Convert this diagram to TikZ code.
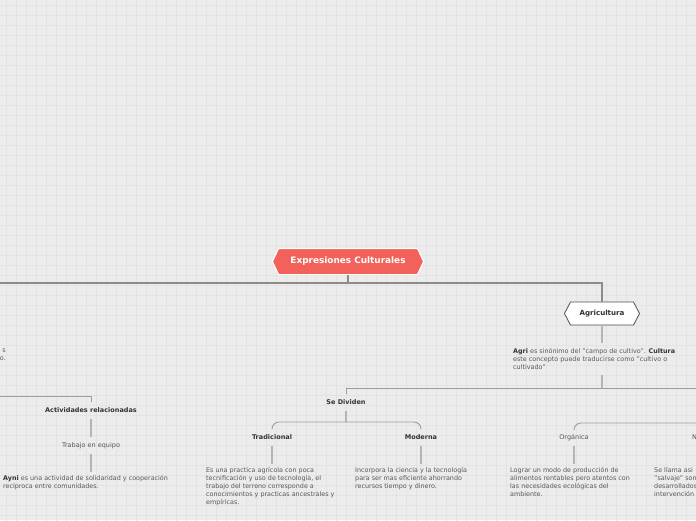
\documentclass[tikz,border=0pt]{standalone}
\usepackage{fontspec}
\setmainfont{DejaVu Sans}
\usetikzlibrary{positioning,shapes.symbols}
\definecolor{canvasgray}{RGB}{236,236,236}
\definecolor{gridgray}{RGB}{227,227,227}
\definecolor{salmonred}{RGB}{242,97,90}
\definecolor{inkgray}{RGB}{51,51,51}
\definecolor{notegray}{RGB}{88,88,88}
\definecolor{linegray}{RGB}{140,140,140}
\newcommand{\kw}[1]{\textcolor{inkgray}{\bfseries #1}}

\begin{document}
\begin{tikzpicture}[
        x=1pt, y=-1pt,
        rootnode/.style={signal, signal to=east and west, signal pointer angle=130,
            fill=salmonred, draw=white, line width=1pt, text=white,
            font=\fontsize{8.9}{10}\selectfont\bfseries,
            minimum width=151pt, minimum height=26pt, inner sep=0pt},
        topicnode/.style={signal, signal to=east and west, signal pointer angle=125,
            fill=white, draw=inkgray!85, line width=0.8pt, text=inkgray,
            font=\fontsize{7.1}{8}\selectfont\bfseries,
            minimum width=75pt, minimum height=23pt, inner sep=0pt},
        subtopic/.style={text=inkgray, font=\fontsize{6.5}{8}\selectfont\bfseries,
            text height=4.7pt, text depth=1.2pt, inner xsep=2pt, inner ysep=5pt},
        leaf/.style={subtopic, font=\fontsize{6.5}{8}\selectfont, text=notegray},
        note/.style={anchor=north west, align=left, inner sep=0pt, text=notegray,
            font=\fontsize{6.4}{8}\selectfont},
        trunk/.style={draw=linegray, line width=1.6pt},
        branch/.style={draw=linegray!85, line width=0.9pt, rounded corners=7pt},
        stem/.style={draw=linegray!65, line width=1.2pt}
    ]
    \useasboundingbox (0,0) rectangle (696,520);
    \fill[canvasgray] (0,0) rectangle (696,520);
    \clip (0,0) rectangle (696,520);
    \draw[gridgray, line width=0.8pt, step=10pt, shift={(6.5,5.5)}] (-10,-10) grid (700,520);

    % central topic and first branch
    \node[rootnode] (root) at (348,261.5) {Expresiones Culturales};
    \node[topicnode] (agri) at (602,313.5) {Agricultura};
    \node[note] (agridef) at (513,348.3) {\kw{Agri} es sinónimo del "campo de cultivo". \kw{Cultura}\\
        este concepto puede traducirse como "cultivo o\\ cultivado"};

    % Se Dividen
    \node[subtopic] (divide) at (346,402.5) {Se Dividen};
    \node[subtopic] (trad) at (272,437.5) {Tradicional};
    \node[subtopic] (moder) at (421,437.5) {Moderna};
    \node[note] (tradtxt) at (206,467.3) {Es una practica agrícola con poca\\
        tecnificación y uso de tecnología, el\\ trabajo del terreno corresponde a\\
        conocimientos y practicas ancestrales y\\ empíricas.};
    \node[note] (modtxt) at (355,467.3) {Incorpora la ciencia y la tecnología\\
        para ser mas eficiente ahorrando\\ recursos tiempo y dinero.};

    % Organica / Natural
    \node[leaf] (organ) at (574,437.5) {Orgánica};
    \node[leaf] (natur) at (704,437.5) {Natural};
    \node[note] (orgtxt) at (510,467.3) {Lograr un modo de producción de\\
        alimentos rentables pero atentos con\\ las necesidades ecológicas del\\ ambiente.};
    \node[note] (nattxt) at (654,467.3) {Se llama asi\\ "salvaje" son\\ desarrollados\\ intervención};

    % left branch
    \node[note, anchor=north east, align=right] (leftfrag) at (6,348.3) {s\\ o.};
    \node[subtopic] (activ) at (91,410.5) {Actividades relacionadas};
    \node[leaf] (trabajo) at (91,445.5) {Trabajo en equipo};
    \node[note] (ayni) at (3,475.3) {\kw{Ayni} es una actividad de solidaridad y cooperación\\
        recíproca entre comunidades.};

    \coordinate (trunkend) at (0,283);
    \coordinate (divrail) at (696,388);
    \coordinate (tradrail) at (346,422);
    \coordinate (natrail) at (696,423);
    \coordinate (actrail) at (0,396);

    \draw[trunk] (root.south) -- (root.south |- trunkend);
    \draw[trunk] (trunkend) -| (agri.north);
    \draw[stem, shorten >=5pt] (agri.south) -- (agri.south |- agridef.north);
    \draw[stem, shorten <=5pt] (agri |- agridef.south) -- (agri |- divrail);
    \draw[branch, rounded corners=0pt] (divide.north) |- (divrail);
    \draw[stem] (divide.south) -- (tradrail);
    \draw[branch] (trad.north) |- (tradrail) -| (moder.north);
    \draw[stem, shorten >=3pt] (trad.south) -- (trad.south |- tradtxt.north);
    \draw[stem, shorten >=3pt] (moder.south) -- (moder.south |- modtxt.north);
    \draw[branch] (organ.north) |- (natrail);
    \draw[stem, shorten >=3pt] (organ.south) -- (organ.south |- orgtxt.north);
    \draw[branch, rounded corners=0pt] (actrail) -| (activ.north);
    \draw[stem] (activ.south) -- (trabajo.north);
    \draw[stem, shorten >=3pt] (trabajo.south) -- (trabajo.south |- ayni.north);
\end{tikzpicture}
\end{document}
